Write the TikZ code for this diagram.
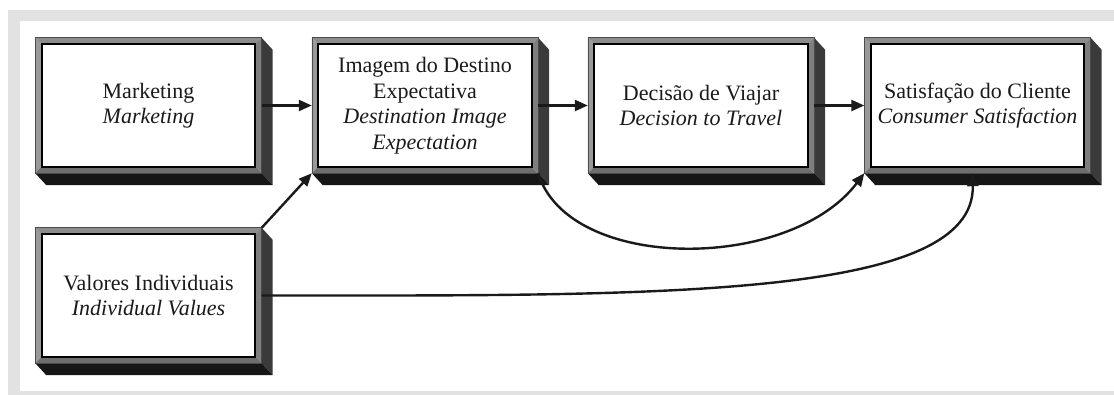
\documentclass[tikz,border=0pt]{standalone}
\usepackage{fontspec}
\setmainfont{Liberation Serif}
\usetikzlibrary{arrows.meta,calc,backgrounds}
\definecolor{framegray}{HTML}{E2E2E2}
\definecolor{sidec}{HTML}{3A3A3A}
\definecolor{botc}{HTML}{161616}
\definecolor{bevtop}{HTML}{8C8C8C}
\definecolor{bevleft}{HTML}{999999}
\definecolor{bevbot}{HTML}{6E6E6E}
\definecolor{bevright}{HTML}{7E7E7E}
\definecolor{ink}{HTML}{1A1A1A}
\newcommand\boxdeco[1]{%
  \fill[sidec] (#1.north east) -- ++(11,12) -- ($(#1.south east)+(11,12)$) -- (#1.south east) -- cycle;
  \fill[botc] (#1.south west) -- ++(11,12) -- ($(#1.south east)+(11,12)$) -- (#1.south east) -- cycle;
  \fill[bevtop] (#1.north west) -- (#1.north east) -- ($(#1.north east)+(-6,6)$) -- ($(#1.north west)+(6,6)$) -- cycle;
  \fill[bevleft] (#1.north west) -- (#1.south west) -- ($(#1.south west)+(6,-6)$) -- ($(#1.north west)+(6,6)$) -- cycle;
  \fill[bevbot] (#1.south west) -- (#1.south east) -- ($(#1.south east)+(-6,-6)$) -- ($(#1.south west)+(6,-6)$) -- cycle;
  \fill[bevright] (#1.north east) -- (#1.south east) -- ($(#1.south east)+(-6,-6)$) -- ($(#1.north east)+(-6,6)$) -- cycle;
  \draw[line width=0.6pt,draw=black!70] (#1.north west) rectangle (#1.south east);
  \filldraw[fill=white,draw=black,line width=1.8pt] ($(#1.north west)+(6.5,6.5)$) rectangle ($(#1.south east)+(-6.5,-6.5)$);
}
\begin{document}
\begin{tikzpicture}[x=1pt,y=-1pt,
  face/.style={minimum width=226pt,minimum height=135pt,inner sep=0pt,align=center,text=ink,
    font=\fontsize{22}{25.5}\selectfont},
  link/.style={draw=ink,line width=2.4pt,-{Triangle[length=13pt,width=11pt]}}]
\clip (0,0) rectangle (1114,395);

\node[face] (b1) at (148.5,105.5) {Marketing\\\textit{Marketing}};
\node[face] (b2) at (425,105.5) {Imagem do Destino\\Expectativa\\\textit{Destination Image}\\\textit{Expectation}};
\node[face] (b3) at (701,105.5) {Decisão de Viajar\\\textit{Decision to Travel}};
\node[face] (b4) at (977.5,105.5) {Satisfação do Cliente\\\textit{Consumer Satisfaction}};
\node[face] (b5) at (148.5,295.5) {Valores Individuais\\\textit{Individual Values}};

\begin{pgfonlayer}{background}
  \fill[framegray] (8,10) rectangle (1130,410);
  \fill[white] (20,21) rectangle (1130,391);
  \boxdeco{b1}
  \boxdeco{b2}
  \boxdeco{b3}
  \boxdeco{b4}
  \boxdeco{b5}
\end{pgfonlayer}

\draw[link] (b1.east) -- (b2.west);
\draw[link] (b2.east) -- (b3.west);
\draw[link] (b3.east) -- (b4.west);
\draw[link] (b5.north east) -- (b2.south west);
\draw[link] (b2.south east) .. controls +(30,99) and +(-75,99) .. (b4.south west);
\coordinate (b4in) at ($(b4.south)+(-5,0)$);
\draw[link] (b5.east) .. controls +(390,0) and +(3,127) .. (b4in);
\end{tikzpicture}
\end{document}
